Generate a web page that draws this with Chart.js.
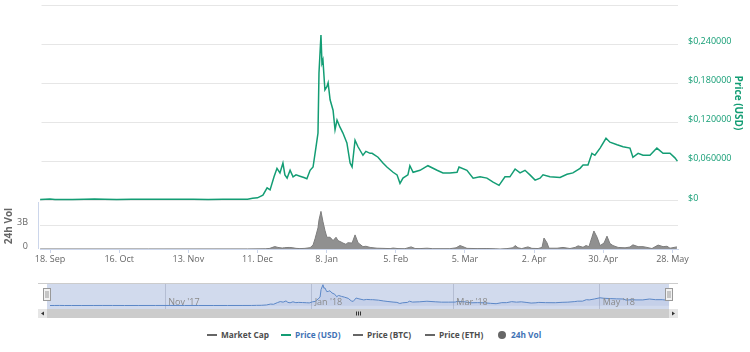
<!DOCTYPE html>
<html>
<head>
<meta charset="utf-8">
<script src="https://cdn.jsdelivr.net/npm/chart.js@4.4.1/dist/chart.umd.min.js"></script>
<style>
  body { margin: 0; background: #fff; font-family: "Open Sans", sans-serif; }
  #wrap { position: relative; width: 750px; height: 352px; overflow: hidden; }
  #main { position: absolute; left: 0; top: 0; }
  #nav { position: absolute; left: 0; top: 280px; }
  .lg { position: absolute; top: 328px; font-size: 8.3px; font-weight: bold; line-height: 14px; white-space: nowrap; }
  .dash { position: absolute; top: 334px; width: 10px; height: 2px; }
  .dot { position: absolute; top: 331px; width: 8px; height: 8px; border-radius: 50%; background: #666; }
</style>
</head>
<body>
<div id="wrap">
  <canvas id="main" width="750" height="270"></canvas>
  <canvas id="nav" width="750" height="42"></canvas>
  <div id="legend"></div>
</div>
<script>
// day 0 = 18 Sep 2017
const tickDays = [0, 28, 56, 84, 112, 140, 168, 196, 224, 252];
const tickLabels = ['18. Sep', '16. Oct', '13. Nov', '11. Dec', '8. Jan', '5. Feb', '5. Mar', '2. Apr', '30. Apr', '28. May'];
const priceTicks = [0, 0.06, 0.12, 0.18, 0.24, 0.30];
const volTicks = [0, 3e9];
const volTickLabels = ['0', '3B'];
const navTickDays = [44, 105, 164, 225];
const navTickLabels = ["Nov '17", "Jan '18", "Mar '18", "May '18"];

// [day, price USD]
const priceSeries = [
  [-4, 0.0022], [-2, 0.0026], [0, 0.0031], [2, 0.0024], [5, 0.0023], [9, 0.0024], [14, 0.0025],
  [18, 0.0029], [22, 0.0026], [27, 0.0024], [33, 0.0025], [40, 0.0027], [46, 0.0028], [52, 0.0026],
  [58, 0.0025], [64, 0.0024], [70, 0.0025], [76, 0.0026], [80, 0.0028], [82, 0.0042], [84, 0.0048],
  [86.2, 0.009], [87.9, 0.020], [89.1, 0.017], [90.7, 0.037], [91.9, 0.050], [93.1, 0.043], [94.3, 0.058],
  [95.1, 0.040], [96, 0.035], [97.2, 0.047], [98.4, 0.037], [99.6, 0.040], [101.2, 0.038], [102.8, 0.036],
  [104, 0.034], [105.3, 0.047], [106.5, 0.052], [107.7, 0.083], [108.5, 0.104], [108.9, 0.196], [109.7, 0.254],
  [110.1, 0.211], [110.5, 0.216], [111.3, 0.170], [112.1, 0.175], [112.6, 0.181], [113.4, 0.155], [114.6, 0.139],
  [115.4, 0.109], [116.2, 0.124], [117.4, 0.113], [118.6, 0.104], [120.2, 0.089], [121.5, 0.058], [122.3, 0.052],
  [123.5, 0.093], [124.7, 0.083], [126.7, 0.070], [127.9, 0.076], [129.6, 0.073], [130.4, 0.073], [132.8, 0.067],
  [134.8, 0.058], [136.4, 0.052], [138.9, 0.044], [140.5, 0.040], [141.7, 0.027], [142.9, 0.035], [144.9, 0.040],
  [145.7, 0.054], [147, 0.044], [149.8, 0.047], [153, 0.054], [156.7, 0.047], [159.1, 0.043], [161.9, 0.043],
  [164.8, 0.044], [165.6, 0.052], [168.8, 0.047], [171.3, 0.035], [174.1, 0.037], [176.9, 0.035], [179.4, 0.029],
  [181.8, 0.024], [184.2, 0.037], [186.2, 0.037], [188.3, 0.049], [190.3, 0.043], [192.3, 0.047], [194.3, 0.040],
  [196.4, 0.032], [198.4, 0.035], [199.6, 0.040], [202.4, 0.037], [206.5, 0.036], [209.3, 0.041], [211.7, 0.043],
  [214.6, 0.050], [215.8, 0.055], [217.8, 0.055], [219.4, 0.073], [220.6, 0.070], [222.7, 0.081], [225.1, 0.096],
  [226.7, 0.090], [229.6, 0.086], [232, 0.083], [234.8, 0.081], [236, 0.067], [238.1, 0.073], [240.1, 0.070],
  [242.9, 0.070], [245.7, 0.081], [248.2, 0.073], [251, 0.073], [253, 0.066], [254, 0.061]
];

// [day, 24h volume in billions USD]
const volSeries = [
  [-4, 0.005], [40, 0.005], [80, 0.01], [87.4, 0.03], [89, 0.08], [91, 0.31], [92.3, 0.2], [94, 0.12],
  [95, 0.17], [96.8, 0.2], [98, 0.17], [99.6, 0.08], [101.2, 0.05], [103.2, 0.08], [105.3, 0.17], [106.5, 0.5],
  [107.3, 1.3], [108.5, 2.7], [108.9, 3.7], [109.7, 4.8], [110.5, 3.5], [111.3, 2.4], [112.1, 1.5], [113.4, 1.5],
  [114.6, 1.07], [115.8, 1.5], [116.6, 1.07], [117.8, 0.9], [118.6, 0.76], [119.8, 0.6], [120.6, 0.8], [122.3, 0.76],
  [123.5, 1.8], [124.7, 0.8], [126.7, 0.3], [127.9, 0.35], [129.6, 0.2], [132.4, 0.1], [134.8, 0.08], [137.7, 0.05],
  [138.9, 0.12], [140.9, 0.05], [143.7, 0.04], [146.2, 0.27], [147.8, 0.06], [149.8, 0.05], [152.6, 0.1], [155, 0.04],
  [157.9, 0.04], [161.9, 0.04], [164.4, 0.15], [166, 0.44], [167.2, 0.3], [168.8, 0.08], [172.9, 0.05], [176.9, 0.06],
  [180.2, 0.03], [182.2, 0.0], [185, 0.05], [187.4, 0.15], [188.3, 0.44], [189.5, 0.15], [191, 0.05], [193.5, 0.27],
  [195.1, 0.08], [197.6, 0.06], [199.2, 0.2], [200, 1.4], [201.2, 0.8], [202, 0.1], [205.3, 0.1], [207.7, 0.2],
  [210.5, 0.06], [212.6, 0.2], [213.8, 0.4], [215.8, 0.22], [217, 0.44], [218.2, 0.3], [219.4, 1.5], [220.2, 2.3],
  [221.5, 1.5], [222.7, 0.44], [224.3, 0.76], [225.5, 1.64], [226.7, 0.7], [227.9, 0.44], [230, 0.2], [232.8, 0.15],
  [234.8, 0.25], [236, 0.53], [238.1, 0.3], [240.1, 0.3], [241.7, 0.2], [243.7, 0.06], [246.2, 0.5], [248.2, 0.3],
  [249.8, 0.35], [251, 0.1], [253.8, 0.27]
];

const GREEN = '#139d74';
const GREY = '#666666';
const xMin = -4.05, xMax = 254.25;

Chart.defaults.font.family = '"Open Sans", sans-serif';

function fmtPrice(v) {
  if (v === 0) return '$0';
  if (v >= 0.3) return '';
  return '$' + v.toFixed(6).replace('.', ',');
}

// fixed axis sizes, no extra label padding
function fixWidth(w) {
  return s => { s.width = w; s.paddingTop = 0; s.paddingBottom = 0; };
}

const mainExtras = {
  id: 'mainExtras',
  afterDraw(chart) {
    const ctx = chart.ctx;
    const a = chart.chartArea;
    ctx.save();
    // price pane has no left edge line
    ctx.fillStyle = '#ffffff';
    ctx.fillRect(34, 0, 7.5, 196);
    // volume pane axis line
    ctx.strokeStyle = '#ccd6eb';
    ctx.lineWidth = 1;
    ctx.beginPath();
    ctx.moveTo(38.5, 202);
    ctx.lineTo(38.5, a.bottom);
    ctx.stroke();
    ctx.beginPath();
    // axis titles
    ctx.font = 'bold 10px "Open Sans", sans-serif';
    ctx.textAlign = 'center';
    ctx.textBaseline = 'middle';
    ctx.fillStyle = GREY;
    ctx.translate(9, 226);
    ctx.rotate(-Math.PI / 2);
    ctx.fillText('24h Vol', 0, 0);
    ctx.restore();
    ctx.save();
    ctx.font = 'bold 10px "Open Sans", sans-serif';
    ctx.textAlign = 'center';
    ctx.textBaseline = 'middle';
    ctx.fillStyle = GREEN;
    ctx.translate(738, 103);
    ctx.rotate(Math.PI / 2);
    ctx.fillText('Price (USD)', 0, 0);
    ctx.restore();
  }
};

new Chart(document.getElementById('main'), {
  type: 'line',
  data: {
    datasets: [
      {
        label: 'Price (USD)',
        data: priceSeries.map(p => ({ x: p[0], y: p[1] })),
        yAxisID: 'yPrice',
        borderColor: GREEN,
        borderWidth: 1.5,
        pointRadius: 0,
        tension: 0,
        fill: false
      },
      {
        label: '24h Vol',
        data: volSeries.map(p => ({ x: p[0], y: p[1] * 1e9 })),
        yAxisID: 'yVol',
        borderColor: '#7d7d7d',
        backgroundColor: 'rgba(125,125,125,0.85)',
        borderWidth: 1,
        pointRadius: 0,
        tension: 0,
        fill: 'origin'
      }
    ]
  },
  options: {
    responsive: false,
    animation: false,
    layout: { padding: { top: 5, left: 0, right: 0, bottom: 0 } },
    plugins: { legend: { display: false }, tooltip: { enabled: false } },
    scales: {
      x: {
        type: 'linear',
        min: xMin,
        max: xMax,
        afterBuildTicks: s => { s.ticks = tickDays.map(v => ({ value: v })); },
        afterFit: s => { s.height = 21; s.paddingLeft = 0; s.paddingRight = 0; },
        ticks: {
          callback: v => tickLabels[tickDays.indexOf(v)],
          color: GREY,
          font: { size: 9 },
          maxRotation: 0,
          autoSkip: false,
          padding: 1
        },
        grid: { drawOnChartArea: false, drawTicks: true, tickLength: 4, color: '#ccd6eb' },
        border: { color: '#ccd6eb' }
      },
      yPrice: {
        position: 'right',
        min: -0.07347,
        max: 0.30,
        afterBuildTicks: s => { s.ticks = priceTicks.map(v => ({ value: v })); },
        afterFit: fixWidth(72),
        ticks: { callback: fmtPrice, color: GREEN, font: { size: 9 }, padding: 10, labelOffset: -3 },
        grid: { color: '#e6e6e6', drawTicks: false },
        border: { display: false }
      },
      yVol: {
        position: 'left',
        min: 0,
        max: 31.15e9,
        afterBuildTicks: s => { s.ticks = volTicks.map(v => ({ value: v })); },
        afterFit: fixWidth(40),
        ticks: {
          callback: v => volTickLabels[volTicks.indexOf(v)],
          color: GREY, font: { size: 9 }, padding: 12, labelOffset: -3
        },
        grid: { color: '#e6e6e6', drawTicks: false },
        border: { display: false }
      }
    }
  },
  plugins: [mainExtras]
});

// navigator
const navExtras = {
  id: 'navExtras',
  beforeDraw(chart) {
    const { ctx, chartArea: a } = chart;
    ctx.save();
    ctx.fillStyle = 'rgba(102,133,194,0.3)';
    ctx.fillRect(a.left - 3, a.top, a.right - a.left + 2, a.bottom - a.top);
    ctx.restore();
  },
  afterDraw(chart) {
    const { ctx, chartArea: a } = chart;
    const xs = chart.scales.x;
    ctx.save();
    // outline
    ctx.strokeStyle = '#cccccc';
    ctx.lineWidth = 1;
    ctx.beginPath();
    ctx.moveTo(38, a.top + 0.5);
    ctx.lineTo(678, a.top + 0.5);
    ctx.stroke();
    // labels
    ctx.font = '9px "Open Sans", sans-serif';
    ctx.fillStyle = '#8a8a8a';
    ctx.textBaseline = 'alphabetic';
    navTickDays.forEach((d, i) => {
      ctx.fillText(navTickLabels[i], xs.getPixelForValue(d) + 3, a.bottom - 4);
    });
    // handles
    [a.left - 3, a.right - 1].forEach(cx => {
      ctx.fillStyle = '#f2f2f2';
      ctx.strokeStyle = '#999999';
      ctx.fillRect(cx - 3.5, 8.5, 7, 12);
      ctx.strokeRect(cx - 3.5, 8.5, 7, 12);
      ctx.beginPath();
      ctx.moveTo(cx - 1, 11); ctx.lineTo(cx - 1, 18);
      ctx.moveTo(cx + 1, 11); ctx.lineTo(cx + 1, 18);
      ctx.stroke();
    });
    // scrollbar
    const sy = 29, sh = 9;
    ctx.fillStyle = '#f2f2f2';
    ctx.fillRect(38, sy, 640, sh);
    ctx.fillStyle = '#cccccc';
    ctx.fillRect(47, sy, 622, sh);
    ctx.fillStyle = '#e6e6e6';
    ctx.fillRect(38, sy, 9, sh);
    ctx.fillRect(669, sy, 9, sh);
    ctx.fillStyle = '#333333';
    ctx.beginPath();
    ctx.moveTo(41, sy + 4.5); ctx.lineTo(44, sy + 2.5); ctx.lineTo(44, sy + 6.5); ctx.fill();
    ctx.beginPath();
    ctx.moveTo(675, sy + 4.5); ctx.lineTo(672, sy + 2.5); ctx.lineTo(672, sy + 6.5); ctx.fill();
    ctx.strokeStyle = '#333333';
    ctx.beginPath();
    [-2, 0, 2].forEach(o => { ctx.moveTo(358.5 + o, sy + 2.5); ctx.lineTo(358.5 + o, sy + 6.5); });
    ctx.stroke();
    ctx.beginPath();
    ctx.restore();
  }
};

new Chart(document.getElementById('nav'), {
  type: 'line',
  data: {
    datasets: [{
      data: priceSeries.map(p => ({ x: p[0], y: p[1] })),
      borderColor: '#5b87c7',
      backgroundColor: 'rgba(51,92,173,0.08)',
      borderWidth: 1,
      pointRadius: 0,
      tension: 0,
      fill: 'origin'
    }]
  },
  options: {
    responsive: false,
    animation: false,
    layout: { padding: { top: 3, bottom: 13, left: 50, right: 80 } },
    plugins: { legend: { display: false }, tooltip: { enabled: false } },
    scales: {
      x: {
        type: 'linear', min: -4, max: xMax,
        afterBuildTicks: s => { s.ticks = navTickDays.map(v => ({ value: v })); },
        afterFit: s => { s.height = 0; },
        ticks: { display: false },
        grid: { color: 'rgba(90,100,130,0.25)', drawTicks: false },
        border: { display: false }
      },
      y: { display: false, min: -0.04, max: 0.275 }
    }
  },
  plugins: [navExtras]
});

// legend
const legendItems = [
  { name: 'Market Cap', mark: 'dash', color: '#666666', text: '#4d4d4d', x: 207 },
  { name: 'Price (USD)', mark: 'dash', color: GREEN, text: '#3f72b5', x: 281 },
  { name: 'Price (BTC)', mark: 'dash', color: '#666666', text: '#4d4d4d', x: 353 },
  { name: 'Price (ETH)', mark: 'dash', color: '#666666', text: '#4d4d4d', x: 425 },
  { name: '24h Vol', mark: 'dot', color: '#666666', text: '#3f72b5', x: 498 }
];
const lg = document.getElementById('legend');
legendItems.forEach(it => {
  const m = document.createElement('div');
  m.className = it.mark;
  m.style.left = it.x + 'px';
  m.style.background = it.color;
  lg.appendChild(m);
  const t = document.createElement('div');
  t.className = 'lg';
  t.style.left = (it.x + (it.mark === 'dot' ? 13 : 14)) + 'px';
  t.style.color = it.text;
  t.textContent = it.name;
  lg.appendChild(t);
});
</script>
</body>
</html>
